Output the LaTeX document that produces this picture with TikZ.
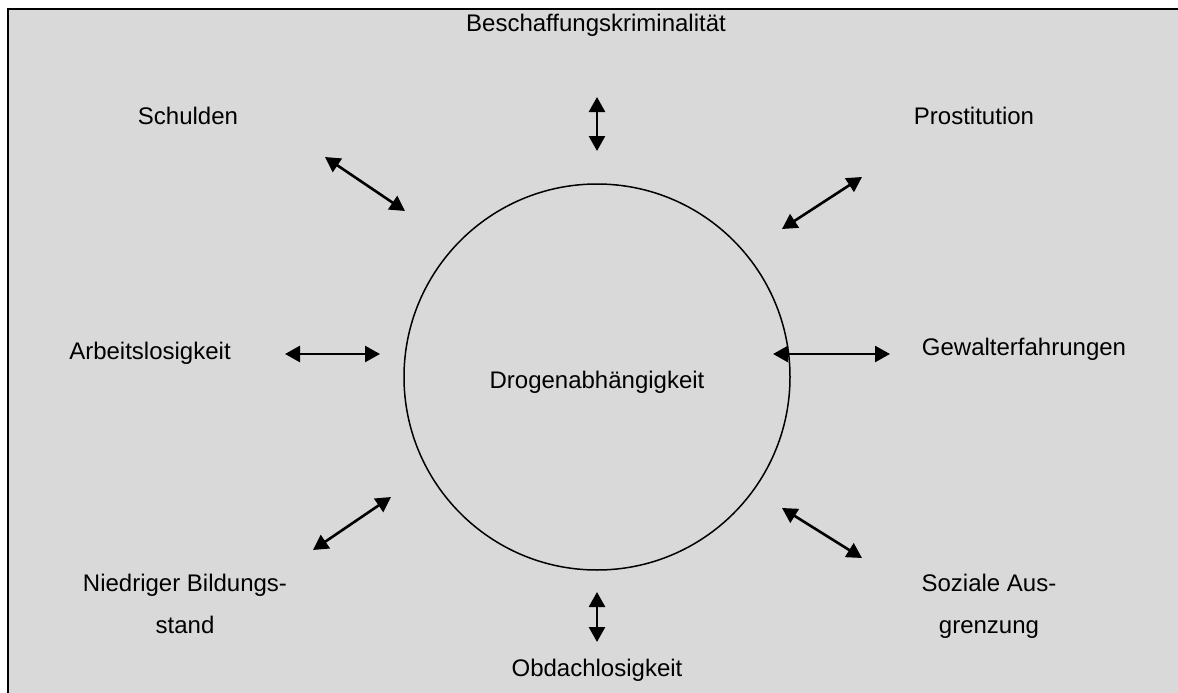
\documentclass[tikz,border=0pt]{standalone}
\usepackage{fontspec}
\setmainfont{Liberation Sans}
\usetikzlibrary{arrows.meta}
\definecolor{bg}{RGB}{217,217,217}
\begin{document}
\begin{tikzpicture}[x=1pt,y=-1pt,
  lbl/.style={font=\fontsize{24}{42}\selectfont, align=center, inner sep=0pt, anchor=base},
  link/.style={line width=2.6pt, {Triangle[length=15pt,width=16pt]}-{Triangle[length=15pt,width=16pt]}}]
\useasboundingbox (0,0) rectangle (1178,693);
\fill[white] (0,0) rectangle (1178,693);
\fill[bg] (8,9) rectangle (1178,693);
\draw[line width=2.5pt] (8,693) -- (8,9) -- (1178,9);
% circle
\node[circle, draw, line width=1.5pt, minimum size=386pt, inner sep=0pt] (c) at (597,377) {};
\node[lbl] (center) at (597,388) {Drogenabhängigkeit};
% labels
\node[lbl] (t) at (596,32) {Beschaffungskriminalität};
\node[lbl] (tl) at (188,124) {Schulden};
\node[lbl] (tr) at (974,124) {Prostitution};
\node[lbl] (l) at (150,359) {Arbeitslosigkeit};
\node[lbl] (r) at (1024,355) {Gewalterfahrungen};
\node[lbl] (bl) at (185,633) {Niedriger Bildungs-\\stand};
\node[lbl] (br) at (989,633) {Soziale Aus-\\grenzung};
\node[lbl] (b) at (597,676) {Obdachlosigkeit};
% arrow end points
\coordinate (t1) at (597,97);   \coordinate (t2) at (597,151);
\coordinate (tl1) at (325,157); \coordinate (tl2) at (405,211);
\coordinate (tr1) at (862,177); \coordinate (tr2) at (782,229);
\coordinate (l1) at (285,354);  \coordinate (l2) at (380,354);
\coordinate (r1) at (773,354);  \coordinate (r2) at (890,354);
\coordinate (bl1) at (313,550); \coordinate (bl2) at (391,497);
\coordinate (br1) at (782,508); \coordinate (br2) at (862,558);
\coordinate (b1) at (597,592);  \coordinate (b2) at (597,642);
\draw[link] (t1) -- (t2);
\draw[link] (tl1) -- (tl2);
\draw[link] (tr1) -- (tr2);
\draw[link] (l1) -- (l2);
\draw[link] (r1) -- (r2);
\draw[link] (bl1) -- (bl2);
\draw[link] (br1) -- (br2);
\draw[link] (b1) -- (b2);
\end{tikzpicture}
\end{document}
